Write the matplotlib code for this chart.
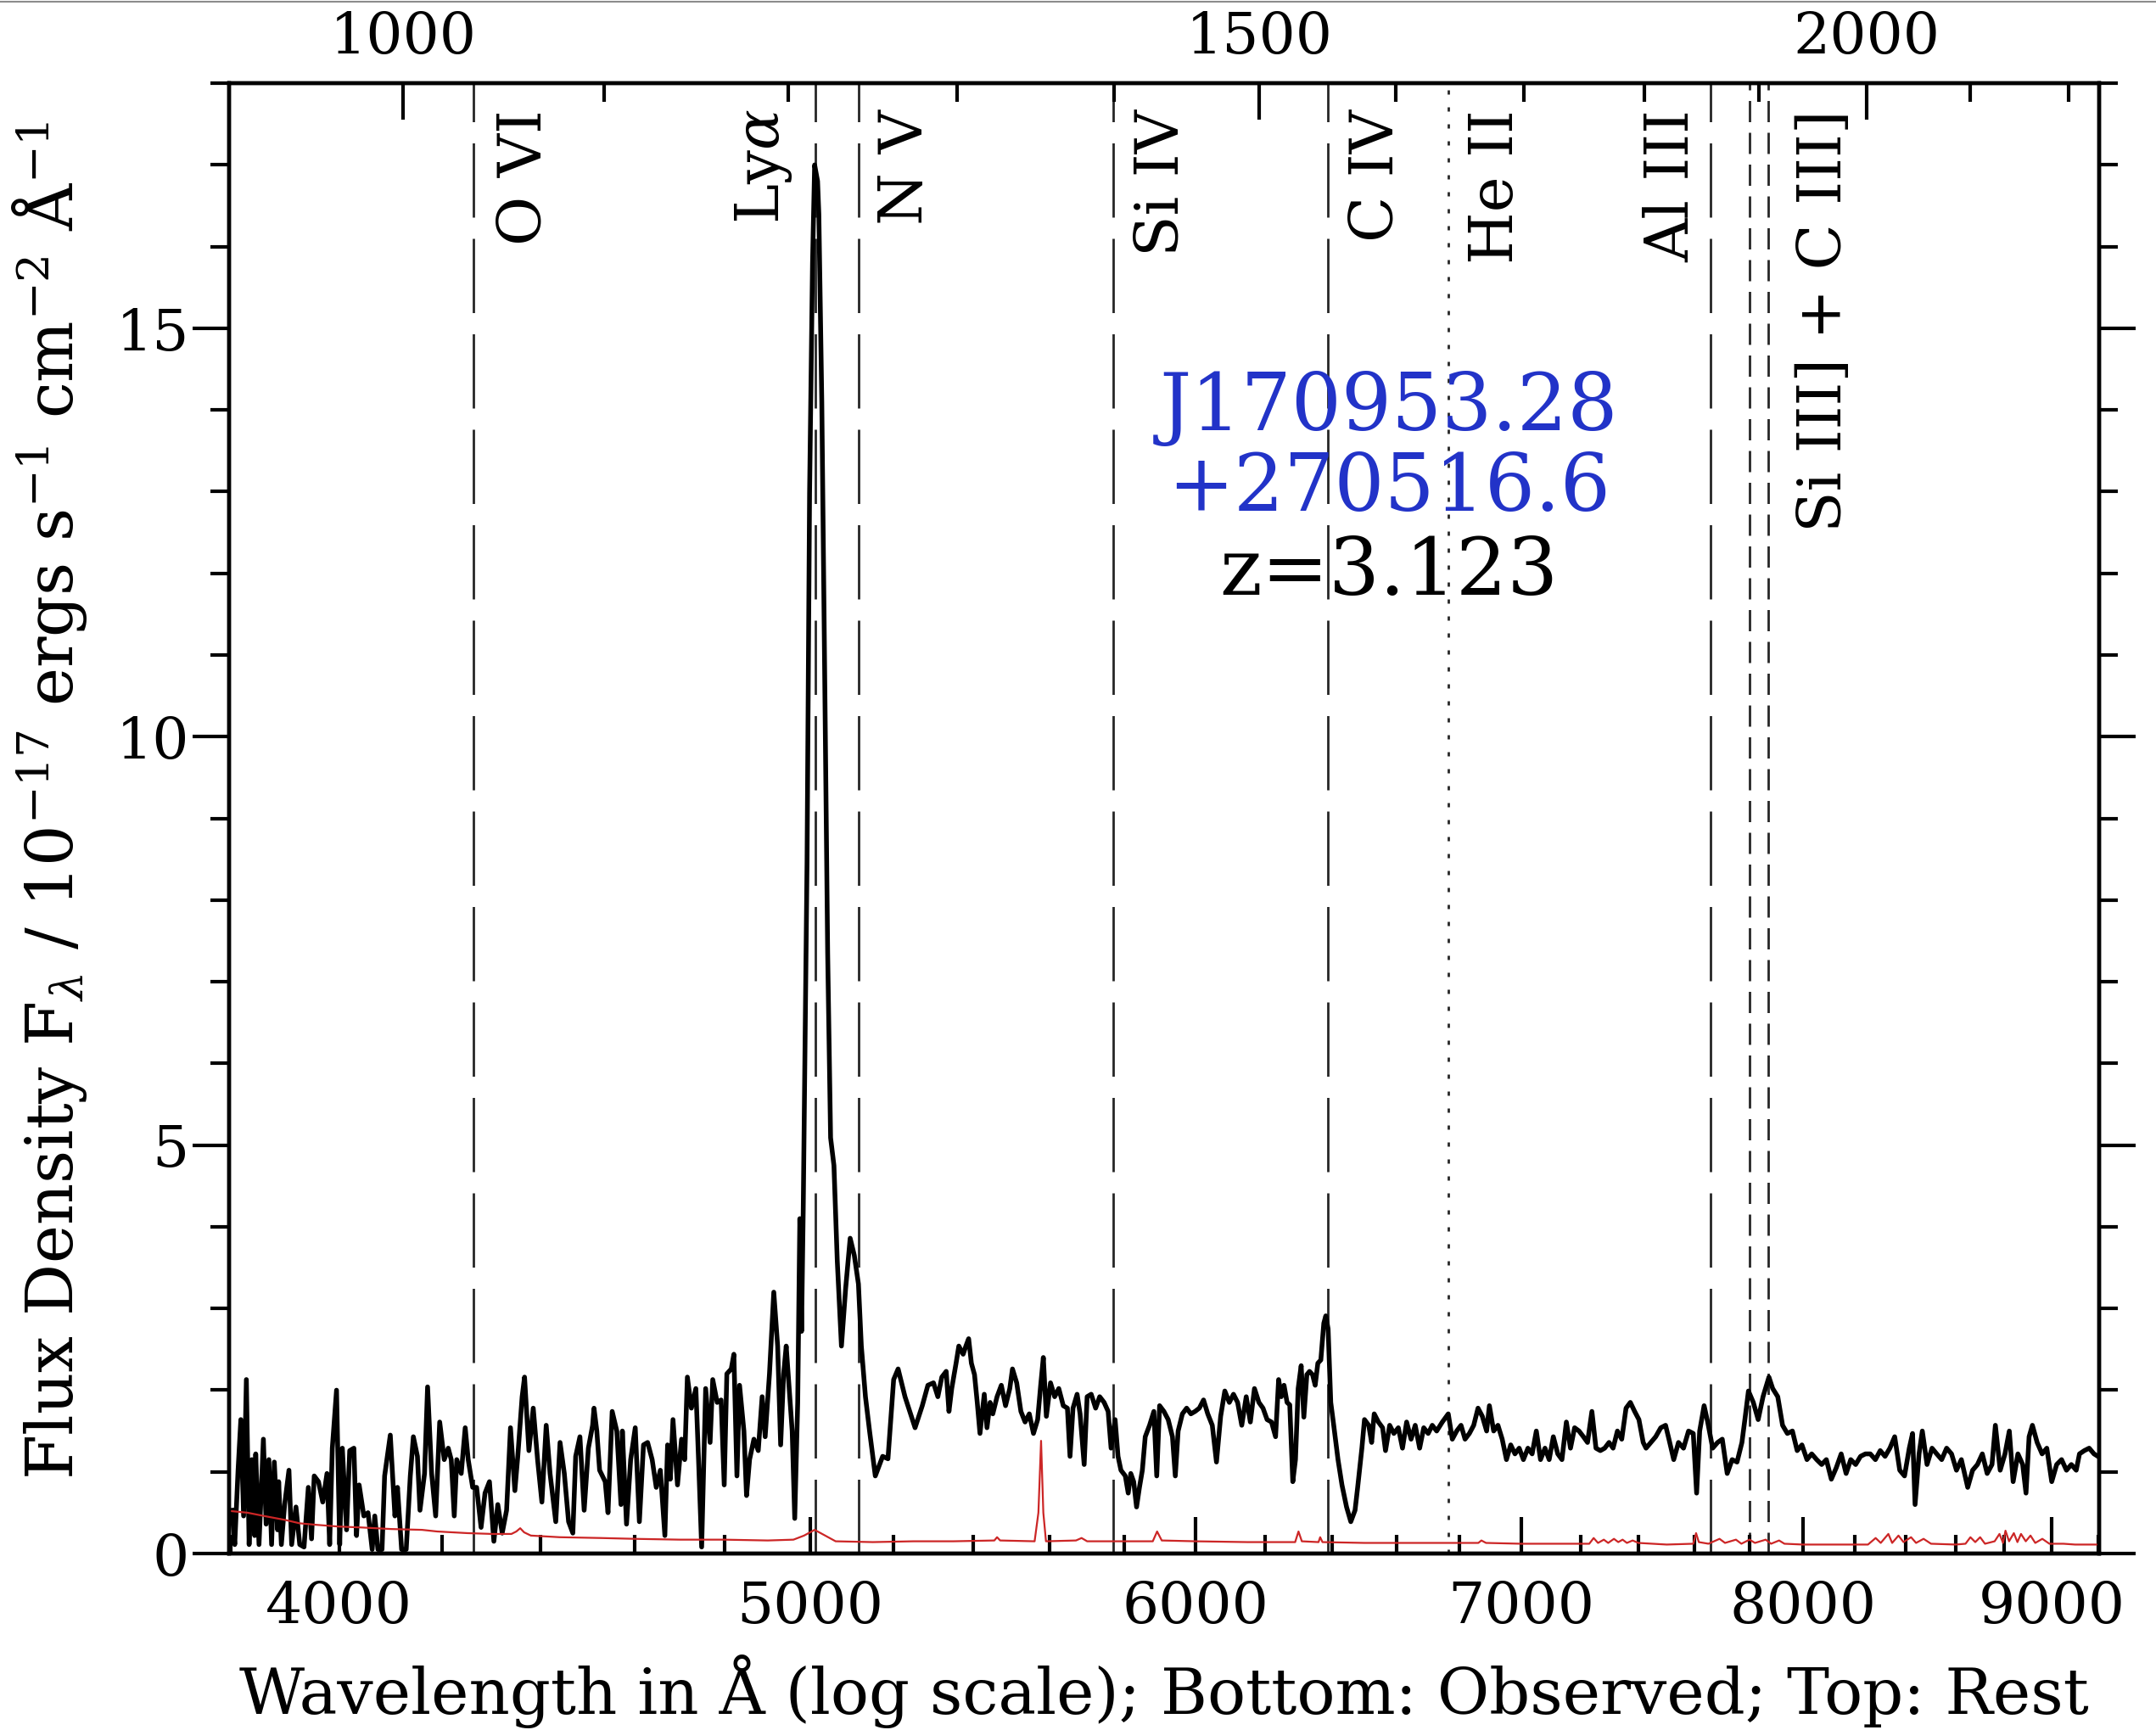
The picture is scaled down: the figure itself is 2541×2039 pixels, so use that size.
import matplotlib
matplotlib.use("Agg")
import matplotlib.pyplot as plt
from matplotlib.ticker import FixedLocator, FuncFormatter, NullFormatter, MultipleLocator
from matplotlib.lines import Line2D

plt.rcParams['font.family'] = ['DejaVu Serif']
plt.rcParams['mathtext.fontset'] = 'dejavuserif'

redshift = 3.123
obs_range = (3797, 9205)

# observed-frame flux, units of 1e-17 erg/s/cm^2/A
wave_forest_a = [3802, 3807, 3813, 3818, 3823, 3828, 3833, 3838, 3843, 3845,
                 3851, 3859, 3864, 3869, 3874, 3879, 3885, 3887, 3892, 3898,
                 3906, 3911, 3919, 3926, 3934, 3942, 3948, 3953, 3961, 3969,
                 3977, 3982, 3987, 3995, 4001, 4006, 4014, 4020, 4028, 4033,
                 4038, 4047, 4055, 4063, 4068, 4074, 4082, 4087, 4098, 4107,
                 4112, 4120, 4129, 4137, 4143, 4151, 4156, 4165, 4171, 4179,
                 4187, 4195, 4204, 4212, 4218, 4224, 4229, 4238, 4246, 4252,
                 4261, 4269, 4278, 4286, 4295, 4304, 4312, 4321, 4330, 4338,
                 4347, 4353, 4362, 4367, 4376, 4385, 4394, 4403, 4412, 4420,
                 4432, 4441, 4450, 4459, 4468, 4474, 4483, 4492, 4501, 4510]
flux_forest_a = [0.53, 0.11, 1.02, 1.64, 0.46, 2.13, 0.11, 1.15, 0.22, 1.22,
                 0.11, 1.40, 0.36, 1.15, 0.11, 1.12, 0.29, 0.88, 0.11, 0.60,
                 1.02, 0.11, 0.57, 0.11, 0.08, 0.81, 0.18, 0.95, 0.88, 0.63,
                 0.98, 0.11, 1.29, 2.00, 0.11, 1.29, 0.29, 1.26, 1.29, 0.22,
                 0.84, 0.46, 0.50, 0.05, 0.46, 0.05, 0.05, 0.95, 1.45, 0.46,
                 0.81, 0.05, 0.05, 0.95, 1.43, 1.19, 0.53, 0.98, 2.04, 0.98,
                 0.46, 1.61, 1.15, 1.29, 1.15, 0.46, 1.15, 0.98, 1.54, 1.15,
                 0.81, 0.81, 0.32, 0.74, 0.88, 0.15, 0.60, 0.25, 0.53, 1.54,
                 0.77, 1.19, 1.92, 2.16, 1.26, 1.78, 1.15, 0.63, 1.57, 0.98,
                 0.39, 1.36, 0.98, 0.39, 0.25, 1.19, 1.43, 0.53, 1.29, 1.57]

wave_forest_b = [4513, 4519, 4525, 4537, 4543, 4552, 4562, 4571, 4574, 4583,
                 4592, 4602, 4611, 4620, 4629, 4639, 4648, 4657, 4667, 4673,
                 4679, 4685, 4695, 4704, 4711, 4717, 4726, 4736, 4742, 4749,
                 4758, 4768, 4774, 4784, 4793, 4800, 4806, 4816, 4822, 4829,
                 4835, 4845, 4851, 4858, 4868, 4878, 4887, 4894, 4904, 4914,
                 4923, 4930, 4937, 4943, 4950, 4957, 4963, 4970, 4975]
flux_forest_b = [1.78, 1.50, 1.02, 0.88, 0.50, 1.74, 1.50, 0.60, 1.50, 0.36,
                 1.15, 1.54, 0.39, 1.33, 1.36, 1.15, 0.81, 1.02, 0.22, 1.33,
                 0.91, 1.64, 0.84, 1.40, 1.15, 2.16, 1.78, 2.02, 1.15, 0.08,
                 2.02, 1.36, 2.13, 1.85, 1.88, 0.84, 2.20, 2.26, 2.44, 0.95,
                 2.06, 1.50, 0.71, 1.15, 1.40, 1.26, 1.92, 1.43, 2.20, 3.20,
                 2.54, 1.33, 2.20, 2.54, 2.02, 1.50, 0.43, 1.85, 4.10]

wave_lya = [4979, 4983, 4992, 4998, 5005, 5010, 5017, 5020, 5027, 5034,
            5041, 5048, 5056, 5064, 5074, 5084, 5095, 5105, 5115, 5122,
            5132, 5142, 5156, 5174, 5187, 5201, 5212, 5229, 5254, 5272,
            5286]
flux_lya = [2.72, 4.20, 8.46, 12.98, 15.8, 17.0, 16.8, 16.4, 14.1, 10.7,
            7.35, 5.09, 4.75, 3.58, 2.54, 3.24, 3.86, 3.65, 3.30, 2.54,
            1.92, 1.50, 0.95, 1.19, 1.16, 2.13, 2.26, 1.92, 1.54, 1.81,
            2.06]

wave_siiv = [5300, 5311, 5321, 5332, 5339, 5346, 5357, 5364, 5375, 5382,
             5389, 5396, 5404, 5411, 5418, 5429, 5436, 5444, 5451, 5462,
             5473, 5484, 5495, 5502, 5513, 5524, 5535, 5546, 5557, 5568,
             5576, 5583, 5591, 5602, 5613, 5624, 5636, 5647, 5654, 5662,
             5673, 5681, 5692, 5700, 5711, 5723, 5734, 5746, 5757, 5765,
             5776, 5784, 5792, 5804, 5812, 5819, 5827, 5835, 5843, 5851,
             5859, 5871, 5883, 5891, 5899, 5911, 5923, 5935, 5943, 5951,
             5963, 5975, 5987, 5999, 6011, 6023, 6035, 6048, 6060, 6072,
             6084, 6097, 6109, 6121, 6133, 6146, 6158, 6170, 6183, 6195,
             6207, 6220]
flux_siiv = [2.09, 1.92, 2.16, 2.23, 1.74, 2.02, 2.33, 2.54, 2.44, 2.54,
             2.63, 2.33, 2.19, 1.85, 1.47, 1.95, 1.54, 1.85, 1.71, 1.92,
             2.06, 1.81, 2.02, 2.26, 2.09, 1.74, 1.61, 1.71, 1.47, 1.64,
             2.06, 2.40, 1.68, 2.09, 1.92, 2.02, 1.81, 1.78, 1.19, 1.78,
             1.95, 1.71, 1.09, 1.92, 1.95, 1.78, 1.92, 1.85, 1.74, 1.29,
             1.64, 1.19, 1.02, 0.95, 0.74, 0.98, 0.88, 0.57, 0.81, 1.02,
             1.43, 1.57, 1.74, 0.95, 1.81, 1.74, 1.64, 1.43, 0.95, 1.50,
             1.71, 1.78, 1.71, 1.74, 1.78, 1.88, 1.71, 1.57, 1.12, 1.68,
             1.99, 1.85, 1.95, 1.85, 1.57, 1.92, 1.61, 2.02, 1.85, 1.78,
             1.64, 1.61]

wave_civ = [6232, 6241, 6249, 6257, 6266, 6274, 6283, 6291, 6299, 6308,
            6316, 6325, 6333, 6342, 6350, 6358, 6367, 6376, 6382, 6389,
            6397, 6406, 6419, 6431, 6445, 6458, 6471, 6479, 6492, 6500,
            6513, 6522, 6530, 6543, 6556, 6565, 6578, 6591, 6605, 6618,
            6631, 6645, 6658, 6672, 6685, 6699, 6712, 6726, 6744, 6763,
            6776, 6790, 6804, 6817, 6831, 6845, 6859, 6873, 6887, 6896,
            6910, 6924, 6938, 6952, 6966, 6980, 6994, 7008, 7023, 7037,
            7051, 7065, 7080, 7094, 7108, 7123, 7137, 7152, 7166, 7180,
            7195, 7210, 7224, 7239, 7253, 7268, 7283, 7298, 7312, 7327,
            7342, 7357, 7372, 7387, 7402, 7417]
flux_civ = [1.43, 2.13, 1.92, 2.06, 1.85, 1.82, 0.88, 1.15, 2.02, 2.30,
            1.67, 2.19, 2.23, 2.19, 2.06, 2.33, 2.37, 2.82, 2.91, 2.75,
            1.85, 1.57, 1.15, 0.84, 0.57, 0.39, 0.53, 0.81, 1.29, 1.64,
            1.57, 1.36, 1.71, 1.61, 1.54, 1.26, 1.57, 1.47, 1.54, 1.29,
            1.61, 1.40, 1.57, 1.29, 1.54, 1.47, 1.57, 1.50, 1.61, 1.71,
            1.40, 1.50, 1.57, 1.40, 1.47, 1.57, 1.78, 1.68, 1.50, 1.81,
            1.50, 1.57, 1.40, 1.15, 1.33, 1.22, 1.29, 1.15, 1.29, 1.22,
            1.50, 1.15, 1.29, 1.15, 1.43, 1.22, 1.15, 1.61, 1.29, 1.54,
            1.50, 1.43, 1.36, 1.74, 1.29, 1.26, 1.29, 1.36, 1.29, 1.50,
            1.40, 1.78, 1.85, 1.74, 1.64, 1.36]

wave_red = [7427, 7444, 7461, 7479, 7496, 7508, 7525, 7542, 7560, 7578,
            7595, 7607, 7618, 7634, 7647, 7665, 7683, 7700, 7718, 7736,
            7754, 7772, 7784, 7796, 7814, 7832, 7850, 7872, 7886, 7905,
            7923, 7941, 7960, 7978, 7996, 8015, 8033, 8052, 8071, 8089,
            8108, 8127, 8146, 8165, 8183, 8202, 8221, 8240, 8259, 8279,
            8298, 8317, 8336, 8355, 8375, 8394, 8413, 8426, 8436, 8452,
            8465, 8484, 8504, 8523, 8543, 8563, 8583, 8603, 8623, 8649,
            8669, 8689, 8709, 8729, 8749, 8763, 8783, 8803, 8821, 8837,
            8857, 8877, 8891, 8904, 8918, 8938, 8959, 8979, 9000, 9021,
            9042, 9063, 9084, 9105, 9119, 9140, 9161, 9182, 9199]
flux_red = [1.29, 1.36, 1.43, 1.54, 1.57, 1.40, 1.15, 1.36, 1.29, 1.50,
            1.47, 0.74, 1.50, 1.81, 1.61, 1.29, 1.36, 1.40, 0.98, 1.15,
            1.12, 1.36, 1.67, 1.99, 1.85, 1.64, 1.92, 2.16, 2.02, 1.92,
            1.57, 1.47, 1.50, 1.26, 1.33, 1.15, 1.22, 1.15, 1.09, 1.15,
            0.91, 1.05, 1.22, 0.98, 1.15, 1.09, 1.19, 1.22, 1.22, 1.15,
            1.26, 1.19, 1.29, 1.43, 1.02, 0.95, 1.29, 1.47, 0.60, 1.22,
            1.50, 1.09, 1.29, 1.22, 1.15, 1.29, 1.22, 1.02, 1.15, 0.81,
            1.02, 1.09, 1.22, 0.98, 1.09, 1.57, 1.02, 1.22, 1.50, 0.88,
            1.22, 1.09, 0.74, 1.43, 1.57, 1.36, 1.22, 1.29, 0.88, 1.09,
            1.15, 1.02, 1.09, 1.02, 1.22, 1.26, 1.29, 1.22, 1.19]

# 1-sigma noise spectrum
err_wave = [3800, 3830, 3860, 3900, 3926, 3960, 4000, 4040, 4100, 4160,
            4190, 4250, 4300, 4340, 4350, 4358, 4366, 4380, 4440, 4528,
            4600, 4700, 4800, 4900, 4960, 4985, 5010, 5035, 5060, 5150,
            5250, 5350, 5455, 5462, 5470, 5560, 5570, 5577, 5583, 5590,
            5670, 5685, 5700, 5800, 5880, 5892, 5905, 6000, 6150, 6290,
            6300, 6310, 6360, 6365, 6372, 6500, 6700, 6860, 6870, 6885,
            7000, 7230, 7245, 7260, 7280, 7295, 7315, 7330, 7345, 7360,
            7380, 7400, 7500, 7595, 7605, 7615, 7650, 7690, 7710, 7750,
            7770, 7800, 7820, 7860, 7880, 7910, 7930, 8000, 8100, 8250,
            8280, 8300, 8330, 8345, 8370, 8390, 8420, 8440, 8470, 8500,
            8600, 8640, 8660, 8680, 8700, 8720, 8760, 8780, 8795, 8805,
            8820, 8840, 8855, 8870, 8890, 8910, 8930, 8960, 8990, 9050,
            9100, 9200]
err_flux = [0.52, 0.50, 0.46, 0.41, 0.37, 0.35, 0.33, 0.32, 0.30, 0.29,
            0.27, 0.25, 0.24, 0.24, 0.27, 0.31, 0.26, 0.22, 0.20, 0.19,
            0.18, 0.17, 0.17, 0.16, 0.17, 0.22, 0.29, 0.22, 0.15, 0.14,
            0.15, 0.15, 0.16, 0.20, 0.16, 0.15, 0.50, 1.38, 0.50, 0.15,
            0.16, 0.19, 0.15, 0.15, 0.15, 0.27, 0.16, 0.15, 0.14, 0.14,
            0.27, 0.15, 0.14, 0.20, 0.14, 0.13, 0.13, 0.13, 0.16, 0.13,
            0.12, 0.12, 0.19, 0.13, 0.17, 0.13, 0.18, 0.14, 0.17, 0.13,
            0.16, 0.13, 0.11, 0.12, 0.25, 0.14, 0.12, 0.18, 0.13, 0.17,
            0.12, 0.17, 0.13, 0.17, 0.12, 0.16, 0.12, 0.11, 0.11, 0.11,
            0.19, 0.13, 0.24, 0.13, 0.22, 0.14, 0.20, 0.13, 0.18, 0.12,
            0.11, 0.12, 0.20, 0.14, 0.20, 0.12, 0.15, 0.24, 0.13, 0.28,
            0.15, 0.25, 0.14, 0.24, 0.15, 0.22, 0.13, 0.18, 0.12, 0.12,
            0.11, 0.11]

# emission lines (rest frame, Angstrom)
line_rest = [1033.82, 1215.67, 1240.81, 1399.8, 1549.48, 1640.4, 1857.4, 1892.03, 1908.73]
line_kind = ['long', 'long', 'long', 'long', 'long', 'dot', 'long', 'short', 'short']

label_text = ['O VI', r'Ly$\alpha$', 'N V', 'Si IV', 'C IV', 'He II', 'Al III',
              'Si III] + C III]']
label_rest = [1033.82, 1215.67, 1240.81, 1399.8, 1549.48, 1640.4, 1857.4, 1908.73]
label_shift = [43, -44, 40, 41, 41, 41, -33, 48]   # points, sideways from the line

object_name = ['J170953.28', '+270516.6']

wave = wave_forest_a + wave_forest_b + wave_lya + wave_siiv + wave_civ + wave_red
flux = flux_forest_a + flux_forest_b + flux_lya + flux_siiv + flux_civ + flux_red

line_dashes = {'long': (0, (31.5, 9)), 'short': (0, (9, 4.5)), 'dot': (0, (1.8, 5.4))}

fig = plt.figure(figsize=(25.41, 20.39), dpi=100)
ax = fig.add_axes([0.1063, 0.1020, 0.8674, 0.8499])

for rest, kind in zip(line_rest, line_kind):
    ax.axvline(rest * (1 + redshift), color='0.15', lw=2.0,
               linestyle=line_dashes[kind], zorder=1)

ax.plot(wave, flux, color='black', lw=4.0, zorder=3)
ax.plot(err_wave, err_flux, color='#cc2626', lw=1.6, zorder=4)

for text, rest, dx in zip(label_text, label_rest, label_shift):
    ax.annotate(text, xy=(rest * (1 + redshift), 17.68), xytext=(dx, 0),
                textcoords='offset points', rotation=90, ha='center', va='top',
                fontsize=51, zorder=5)

ax.text(0.62, 0.779, object_name[0], transform=ax.transAxes, ha='center',
        va='center', fontsize=67, color='#2233c8')
ax.text(0.62, 0.724, object_name[1], transform=ax.transAxes, ha='center',
        va='center', fontsize=67, color='#2233c8')
ax.text(0.62, 0.667, 'z=%.3f' % redshift, transform=ax.transAxes, ha='center',
        va='center', fontsize=68, color='black')

# bottom axis: observed wavelength
ax.set_xscale('log')
ax.set_xlim(*obs_range)
ax.set_ylim(0, 18)
ax.xaxis.set_major_locator(FixedLocator(list(range(4000, 10000, 1000))))
ax.xaxis.set_minor_locator(FixedLocator(list(range(3800, 9400, 200))))
ax.xaxis.set_major_formatter(FuncFormatter(lambda v, _: '%d' % round(v)))
ax.xaxis.set_minor_formatter(NullFormatter())
ax.yaxis.set_major_locator(MultipleLocator(5))
ax.yaxis.set_minor_locator(MultipleLocator(1))

ax.tick_params(axis='x', which='both', direction='in', bottom=True, top=False,
               width=3, labelsize=49, pad=22)
ax.tick_params(axis='x', which='major', length=31)
ax.tick_params(axis='x', which='minor', length=16)
ax.tick_params(axis='y', which='both', direction='out', left=True, right=True,
               width=3, labelsize=49, pad=3)
ax.tick_params(axis='y', which='major', length=31)
ax.tick_params(axis='y', which='minor', length=16)

# top axis: rest-frame wavelength
top = ax.twiny()
top.set_xscale('log')
top.set_xlim(obs_range[0] / (1 + redshift), obs_range[1] / (1 + redshift))
top.xaxis.set_major_locator(FixedLocator([1000, 1500, 2000]))
top.xaxis.set_minor_locator(FixedLocator(list(range(900, 2300, 100))))
top.xaxis.set_major_formatter(FuncFormatter(lambda v, _: '%d' % round(v)))
top.xaxis.set_minor_formatter(NullFormatter())
top.tick_params(axis='x', which='both', direction='in', width=3, labelsize=49, pad=15)
top.tick_params(axis='x', which='major', length=31)
top.tick_params(axis='x', which='minor', length=16)

for a in (ax, top):
    for sp in a.spines.values():
        sp.set_linewidth(3.2)

ax.set_xlabel('Wavelength in Å (log scale); Bottom: Observed; Top: Rest',
              fontsize=54, labelpad=17)
ax.set_ylabel(r'Flux Density F$_\lambda$ / 10$^{-17}$ ergs s$^{-1}$ cm$^{-2}$ Å$^{-1}$',
              fontsize=55)
ax.yaxis.set_label_coords(-0.075, 0.512)

fig.add_artist(Line2D([0, 1], [0.999, 0.999], transform=fig.transFigure,
                      color='0.55', lw=1.5))

fig.savefig('out.png', dpi=100)
